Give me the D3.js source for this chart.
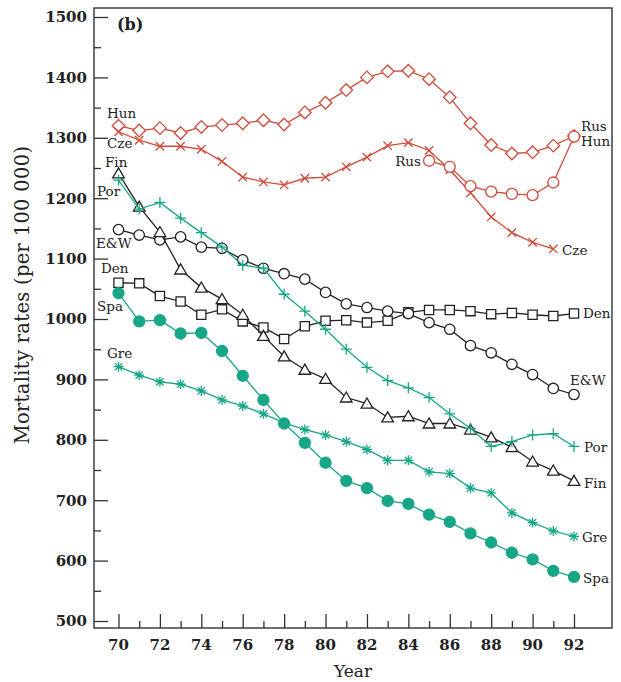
<!DOCTYPE html>
<html>
<head>
<meta charset="utf-8">
<script src="https://cdn.jsdelivr.net/npm/d3@7"></script>
<style>
  html, body { margin: 0; padding: 0; background: #fff; }
  svg { display: block; }
  text { font-family: "DejaVu Serif", "Liberation Serif", serif; fill: #222; }
</style>
</head>
<body>
<svg id="chart" width="621" height="682"></svg>
<script>
// Mortality rates per 100 000, 1970-1992
const years = d3.range(70, 93);

const hun = [1320, 1312, 1316, 1308, 1318, 1321, 1324, 1329, 1322, 1342, 1358, 1379,
             1400, 1410, 1411, 1397, 1367, 1324, 1288, 1274, 1276, 1287, 1303];
const cze = [1310, 1296, 1286, 1286, 1281, 1261, 1235, 1227, 1222, 1233, 1235, 1252,
             1268, 1287, 1292, 1279, 1247, 1209, 1169, 1143, 1127, 1116];
const rusYears = d3.range(85, 93);
const rus = [1262, 1252, 1220, 1211, 1207, 1205, 1226, 1302];
const fin = [1241, 1186, 1144, 1082, 1052, 1033, 1007, 972, 938, 916, 901, 870,
             860, 837, 839, 827, 827, 817, 804, 788, 764, 749, 732];
const por = [1230, 1182, 1193, 1167, 1143, 1119, 1089, 1084, 1041, 1013, 983, 950,
             920, 898, 886, 870, 843, 819, 789, 797, 808, 810, 789];
const eaw = [1148, 1139, 1131, 1136, 1119, 1117, 1098, 1084, 1075, 1066, 1044, 1025,
             1019, 1013, 1009, 994, 983, 956, 944, 925, 908, 885, 875];
const den = [1060, 1059, 1038, 1029, 1007, 1016, 996, 986, 967, 988, 997, 998,
             994, 997, 1011, 1015, 1015, 1013, 1008, 1010, 1007, 1005, 1009];
const spa = [1043, 996, 998, 976, 977, 947, 906, 866, 827, 795, 762, 732,
             720, 699, 694, 676, 664, 645, 630, 613, 602, 583, 573];
const gre = [921, 907, 896, 892, 881, 866, 856, 843, 828, 817, 808, 797,
             784, 766, 766, 747, 744, 720, 712, 679, 663, 649, 640];

const yTicks = d3.range(500, 1501, 100);
const yMinorTicks = d3.range(550, 1500, 100);
const xTickLabels = d3.range(70, 93, 2);

const RED = "#d14a3a", TEAL = "#17a686", INK = "#222";

const svg = d3.select("#chart");
const frame = { left: 94, right: 612, top: 8, bottom: 628 };
const x = d3.scaleLinear().domain([70, 92]).range([118.5, 574]);
const y = d3.scaleLinear().domain([500, 1500]).range([621, 17]);

// Frame
svg.append("rect")
  .attr("x", frame.left).attr("y", frame.top)
  .attr("width", frame.right - frame.left).attr("height", frame.bottom - frame.top)
  .attr("fill", "none").attr("stroke", "#333").attr("stroke-width", 1.4);

// Y axis: ticks pointing inward
const yAxis = d3.axisRight(y).tickValues(yTicks).tickSize(14).tickFormat("");
const yg = svg.append("g").attr("transform", `translate(${frame.left},0)`).call(yAxis);
yg.select(".domain").remove();
yg.selectAll("line").attr("stroke", "#333").attr("stroke-width", 1.3);
const yMinor = d3.axisRight(y).tickValues(yMinorTicks).tickSize(7).tickFormat("");
const ygm = svg.append("g").attr("transform", `translate(${frame.left},0)`).call(yMinor);
ygm.select(".domain").remove();
ygm.selectAll("line").attr("stroke", "#333").attr("stroke-width", 1.3);

svg.append("g").selectAll("text").data(yTicks).join("text")
  .attr("x", frame.left - 7).attr("y", d => y(d))
  .attr("dy", "0.36em").attr("text-anchor", "end")
  .attr("font-size", 15).attr("font-weight", "bold")
  .text(d => d);

// X axis: ticks pointing inward
const xAxis = d3.axisTop(x).tickValues(xTickLabels).tickSize(14).tickFormat("");
const xg = svg.append("g").attr("transform", `translate(0,${frame.bottom})`).call(xAxis);
xg.select(".domain").remove();
xg.selectAll("line").attr("stroke", "#333").attr("stroke-width", 1.3);
const xMinor = d3.axisTop(x).tickValues(d3.range(71, 93, 2)).tickSize(7).tickFormat("");
const xgm = svg.append("g").attr("transform", `translate(0,${frame.bottom})`).call(xMinor);
xgm.select(".domain").remove();
xgm.selectAll("line").attr("stroke", "#333").attr("stroke-width", 1.3);

svg.append("g").selectAll("text").data(xTickLabels).join("text")
  .attr("x", d => x(d)).attr("y", 650)
  .attr("text-anchor", "middle")
  .attr("font-size", 15).attr("font-weight", "bold")
  .text(d => d);

// Axis titles
svg.append("text")
  .attr("x", (frame.left + frame.right) / 2).attr("y", 677)
  .attr("text-anchor", "middle").attr("font-size", 17)
  .text("Year");
svg.append("text")
  .attr("transform", `translate(29,295) rotate(-90)`)
  .attr("text-anchor", "middle").attr("font-size", 19.5)
  .attr("letter-spacing", 0.3)
  .text("Mortality rates (per 100 000)");

svg.append("text")
  .attr("x", 117).attr("y", 30).attr("font-size", 16).attr("font-weight", "bold")
  .text("(b)");

// Marker shapes
const shapes = {
  diamond: s => `M0,${-s}L${s},0L0,${s}L${-s},0Z`,
  cross: s => `M${-s},${-s}L${s},${s}M${-s},${s}L${s},${-s}`,
  plus: s => `M${-s},0H${s}M0,${-s}V${s}`,
  square: s => `M${-s},${-s}H${s}V${s}H${-s}Z`,
  triangle: s => `M0,${-s * 1.05}L${s * 1.1},${s * 0.85}L${-s * 1.1},${s * 0.85}Z`,
  star: s => {
    const d = s * 0.72;
    return `M${-s},0H${s}M0,${-s}V${s}M${-d},${-d}L${d},${d}M${-d},${d}L${d},${-d}`;
  }
};

const series = [
  { key: "Hun", xs: years, vals: hun, color: RED, marker: "diamond", size: 6.3, fill: "#fff" },
  { key: "Cze", xs: years.slice(0, cze.length), vals: cze, color: RED, marker: "cross", size: 4.2 },
  { key: "Rus", xs: rusYears, vals: rus, color: RED, marker: "circle", size: 5.5, fill: "#fff" },
  { key: "Den", xs: years, vals: den, color: INK, marker: "square", size: 4.6, fill: "#fff" },
  { key: "E&W", xs: years, vals: eaw, color: INK, marker: "circle", size: 5.2, fill: "#fff" },
  { key: "Fin", xs: years, vals: fin, color: INK, marker: "triangle", size: 5.3, fill: "#fff" },
  { key: "Por", xs: years, vals: por, color: TEAL, marker: "plus", size: 5.5 },
  { key: "Gre", xs: years, vals: gre, color: TEAL, marker: "star", size: 5 },
  { key: "Spa", xs: years, vals: spa, color: TEAL, marker: "circle", size: 5.5, fill: TEAL }
];

const line = d3.line().x(d => x(d[0])).y(d => y(d[1]));

series.forEach(s => {
  const pts = s.xs.map((yr, i) => [yr, s.vals[i]]);
  const g = svg.append("g");
  g.append("path").datum(pts).attr("d", line)
    .attr("fill", "none").attr("stroke", s.color).attr("stroke-width", 1.3);
  const m = g.selectAll("g.m").data(pts).join("g")
    .attr("transform", d => `translate(${x(d[0])},${y(d[1])})`);
  if (s.marker === "circle") {
    m.append("circle").attr("r", s.size)
      .attr("fill", s.fill).attr("stroke", s.color).attr("stroke-width", 1.3);
  } else {
    m.append("path").attr("d", shapes[s.marker](s.size))
      .attr("fill", s.fill || "none").attr("stroke", s.color).attr("stroke-width", 1.3);
  }
});

// Series labels, placed in pixels beside the start and end of each line
const labels = [
  { text: "Hun", px: 107, py: 118, anchor: "start" },
  { text: "Cze", px: 107, py: 148, anchor: "start" },
  { text: "Fin", px: 105, py: 167, anchor: "start" },
  { text: "Por", px: 97, py: 196, anchor: "start" },
  { text: "E&W", px: 96, py: 248, anchor: "start" },
  { text: "Den", px: 101, py: 273, anchor: "start" },
  { text: "Spa", px: 97, py: 311, anchor: "start" },
  { text: "Gre", px: 107, py: 358, anchor: "start" },
  { text: "Rus", px: 421, py: 166, anchor: "end" },
  { text: "Rus", px: 581, py: 131, anchor: "start" },
  { text: "Hun", px: 581, py: 146, anchor: "start" },
  { text: "Cze", px: 562, py: 255, anchor: "start" },
  { text: "Den", px: 583, py: 318, anchor: "start" },
  { text: "E&W", px: 570, py: 385, anchor: "start" },
  { text: "Por", px: 584, py: 452, anchor: "start" },
  { text: "Fin", px: 584, py: 488, anchor: "start" },
  { text: "Gre", px: 582, py: 542, anchor: "start" },
  { text: "Spa", px: 583, py: 583, anchor: "start" }
];
svg.append("g").selectAll("text").data(labels).join("text")
  .attr("x", d => d.px).attr("y", d => d.py)
  .attr("text-anchor", d => d.anchor)
  .attr("font-size", 13.5)
  .text(d => d.text);
</script>
</body>
</html>
